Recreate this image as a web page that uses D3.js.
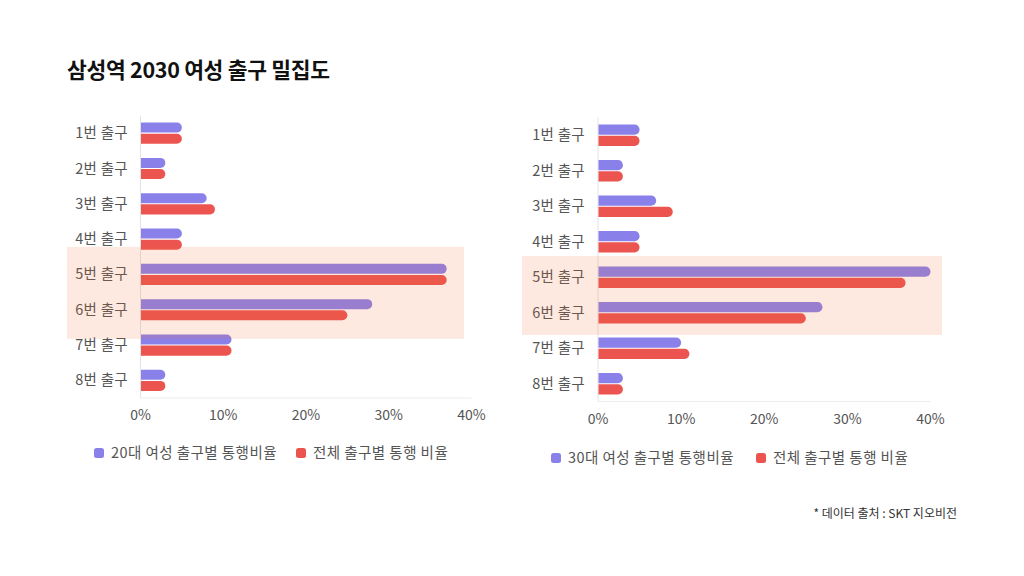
<!DOCTYPE html>
<html><head><meta charset="utf-8">
<script src="https://cdn.jsdelivr.net/npm/d3@7"></script>
<style>
body{margin:0;background:#fff;}
text{font-family:"Noto Sans CJK KR","Noto Sans",sans-serif;}
</style></head>
<body><svg id="c" width="1024" height="576"></svg>
<script>
const categories = ["1번 출구","2번 출구","3번 출구","4번 출구","5번 출구","6번 출구","7번 출구","8번 출구"];
const women20 = [5,3,8,5,37,28,11,3];
const total20 = [5,3,9,5,37,25,11,3];
const women30 = [5,3,7,5,40,27,10,3];
const total30 = [5,3,9,5,37,25,11,3];
const xTicks = [0,10,20,30,40];
const highlighted = ["5번 출구","6번 출구"];
const legend20 = ["20대 여성 출구별 통행비율","전체 출구별 통행 비율"];
const legend30 = ["30대 여성 출구별 통행비율","전체 출구별 통행 비율"];
const title = "삼성역 2030 여성 출구 밀집도";
const source = "* 데이터 출처 : SKT 지오비전";

const PURPLE = "#8a80ea", RED = "#ec5450";
const svg = d3.select("#c");

svg.append("text").attr("x",67).attr("y",78).attr("font-size",21.5).attr("font-weight",700)
  .attr("fill","#111").attr("letter-spacing","-0.3").text(title);
svg.append("text").attr("x",957).attr("y",518).attr("text-anchor","end").attr("font-size",12)
  .attr("fill","#333").text(source);

function roundRight(x0,y,w,h,r){
  r=Math.min(r,w,h/2);
  return `M${x0},${y}H${x0+w-r}A${r},${r} 0 0 1 ${x0+w},${y+r}V${y+h-r}A${r},${r} 0 0 1 ${x0+w-r},${y+h}H${x0}Z`;
}

function chart(o){
  const x = d3.scaleLinear().domain([0,40]).range([o.x0,o.x1]);
  const y = d3.scaleBand().domain(categories).range([o.y0,o.y1]).paddingInner(0.4).paddingOuter(0.2);
  const sub = d3.scaleBand().domain(["a","b"]).range([0,y.bandwidth()]).paddingInner(0.1);
  const g = svg.append("g");
  g.append("line").attr("x1",x(0)).attr("x2",x(0)).attr("y1",o.y0).attr("y2",o.y1).attr("stroke","#e3e3e3");
  g.append("line").attr("x1",x(0)).attr("x2",x(40)).attr("y1",o.y1).attr("y2",o.y1).attr("stroke","#ececec");
  const series=[{k:"a",v:o.a,c:PURPLE},{k:"b",v:o.b,c:RED}];
  series.forEach(s=>{
    g.selectAll(null).data(categories).enter().append("path")
      .attr("d",(d,i)=>roundRight(x(0)+0.5,y(d)+sub(s.k),x(s.v[i])-x(0)-0.5,sub.bandwidth(),sub.bandwidth()/2))
      .attr("fill",s.c);
  });
  g.selectAll(null).data(categories).enter().append("text")
    .attr("x",o.labelX).attr("y",d=>y(d)+y.bandwidth()/2).attr("dy","0.35em")
    .attr("text-anchor","end").attr("font-size",14.5).attr("letter-spacing","0.3").attr("fill","#555").text(d=>d);
  g.selectAll(null).data(xTicks).enter().append("text")
    .attr("x",d=>x(d)).attr("y",o.tickY).attr("text-anchor","middle").attr("font-size",14)
    .attr("fill","#555").text(d=>d+"%");
  const hTop = y(highlighted[0]) - o.hPadTop;
  const hBot = y(highlighted[highlighted.length-1]) + y.bandwidth() + o.hPadBot;
  g.append("rect").attr("x",o.hx0).attr("width",o.hx1-o.hx0).attr("y",hTop).attr("height",hBot-hTop)
    .attr("fill","rgb(242,105,45)").attr("fill-opacity",0.15);
  o.legend.forEach((t,i)=>{
    const lx=o.legX[i];
    g.append("rect").attr("x",lx).attr("y",o.legY-5).attr("width",10).attr("height",10).attr("rx",2.5)
      .attr("fill",i===0?PURPLE:RED);
    g.append("text").attr("x",lx+17).attr("y",o.legY).attr("dy","0.35em").attr("font-size",14.5)
      .attr("letter-spacing","0.45").attr("fill","#555").text(t);
  });
}

chart({x0:140.5,x1:471.5,y0:115.5,y1:398,labelX:128,tickY:420,hx0:67,hx1:464,hPadTop:17,hPadBot:18.5,
  a:women20,b:total20,legend:legend20,legX:[94,296],legY:453});
chart({x0:598,x1:930.5,y0:117.5,y1:401.5,labelX:585,tickY:424,hx0:522,hx1:942,hPadTop:10.5,hPadBot:11.5,
  a:women30,b:total30,legend:legend30,legX:[551,756],legY:458});
</script></body></html>
